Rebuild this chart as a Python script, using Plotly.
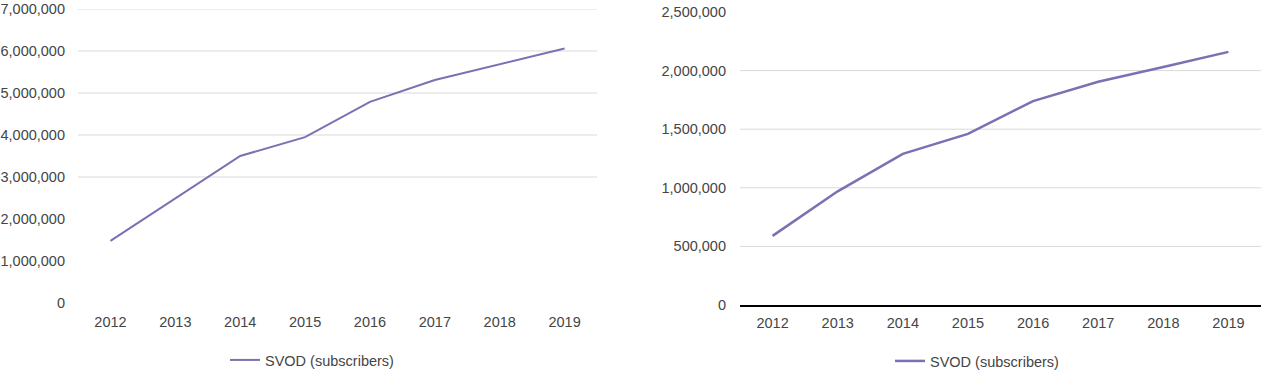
import plotly.graph_objects as go

years = ["2012", "2013", "2014", "2015", "2016", "2017", "2018", "2019"]
left_values = [1480000, 2500000, 3500000, 3950000, 4790000, 5310000, 5690000, 6060000]
right_values = [590000, 970000, 1290000, 1460000, 1740000, 1905000, 2030000, 2160000]
series_name = "SVOD (subscribers)"
left_ticks = [0, 1000000, 2000000, 3000000, 4000000, 5000000, 6000000, 7000000]
right_ticks = [0, 500000, 1000000, 1500000, 2000000, 2500000]
left_grid = [3000000, 4000000, 5000000, 6000000, 7000000]
right_grid = [500000, 1000000, 1500000, 2000000]

LINE = "#7B70B3"
TXT = "#454545"
FONT = "Liberation Sans, Arial, sans-serif"
FS = 14.5
W, H = 1272, 372

fig = go.Figure()
fig.add_trace(go.Scatter(x=years, y=left_values, mode="lines", name=series_name,
                         line=dict(color=LINE, width=2), xaxis="x", yaxis="y",
                         legend="legend", showlegend=True))
fig.add_trace(go.Scatter(x=years, y=right_values, mode="lines", name=series_name,
                         line=dict(color=LINE, width=2.5), xaxis="x2", yaxis="y2",
                         legend="legend2", showlegend=True))

shapes = []
for v in left_grid:
    shapes.append(dict(type="line", xref="x domain", yref="y", x0=0, x1=1, y0=v, y1=v,
                       line=dict(color="#d9d9d9", width=1), layer="below"))
for v in right_grid:
    shapes.append(dict(type="line", xref="x2 domain", yref="y2", x0=0, x1=1, y0=v, y1=v,
                       line=dict(color="#d9d9d9", width=1), layer="below"))

tickfont = dict(family=FONT, size=FS, color=TXT)
ncat = len(years)

fig.update_layout(
    width=W, height=H,
    margin=dict(l=0, r=0, t=0, b=0, autoexpand=False),
    paper_bgcolor="white", plot_bgcolor="white",
    font=dict(family=FONT, size=FS, color=TXT),
    showlegend=True,
    shapes=shapes,
    xaxis=dict(domain=[78 / W, 597 / W], type="category", range=[-0.5, ncat - 0.5],
               showgrid=False, zeroline=False, automargin=False,
               showline=False, ticks="", tickfont=tickfont, ticklabelstandoff=8,
               anchor="y"),
    yaxis=dict(domain=[(H - 303) / H, (H - 9) / H], range=[0, 7000000], tickvals=left_ticks,
               tickformat=",", showgrid=False, zeroline=False, showline=False, ticks="",
               automargin=False, tickfont=tickfont, ticklabelstandoff=12, anchor="x"),
    xaxis2=dict(domain=[740 / W, 1261 / W], type="category", range=[-0.5, ncat - 0.5],
                showgrid=False, zeroline=False, automargin=False,
                showline=True, linecolor="#000000", linewidth=1.5, ticks="",
                tickfont=tickfont, ticklabelstandoff=4, anchor="y2"),
    yaxis2=dict(domain=[(H - 305) / H, (H - 12) / H], range=[0, 2500000], tickvals=right_ticks,
                tickformat=",", showgrid=False, zeroline=False, showline=False, ticks="",
                automargin=False, tickfont=tickfont, ticklabelstandoff=13, anchor="x2"),
    legend=dict(x=225 / W, y=(H - 360) / H, xanchor="left", yanchor="middle",
                orientation="h", bgcolor="rgba(0,0,0,0)", font=dict(family=FONT, size=FS, color=TXT)),
    legend2=dict(x=890 / W, y=(H - 361) / H, xanchor="left", yanchor="middle",
                 orientation="h", bgcolor="rgba(0,0,0,0)", font=dict(family=FONT, size=FS, color=TXT)),
)

fig.write_html("out.html")
